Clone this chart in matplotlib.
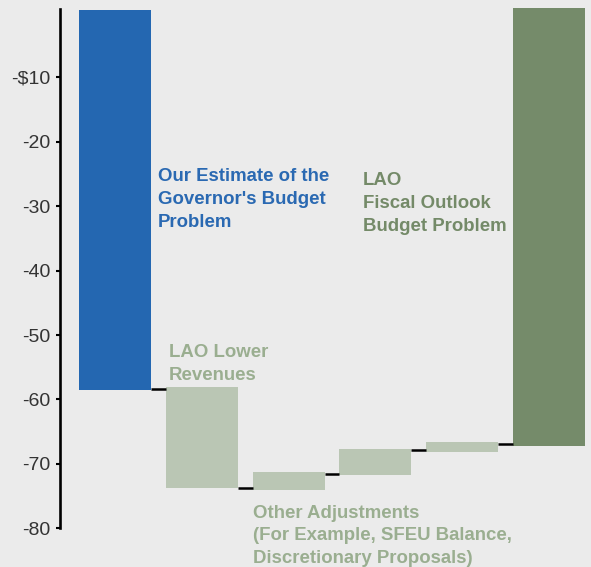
import matplotlib
matplotlib.use("Agg")
import matplotlib.pyplot as plt

# ---- data (billions of dollars) ----
categories = ["Governor's Budget Problem", "LAO Lower Revenues", "Other Adj. 1",
              "Other Adj. 2", "Other Adj. 3", "LAO Fiscal Outlook Budget Problem"]
bar_tops = [0.45, -58.1, -71.25, -67.7, -66.6, 0.75]
bar_bottoms = [-58.6, -73.8, -74.0, -71.7, -68.1, -67.2]
connector_levels = [-58.3, -73.7, -71.5, -67.9, -66.9]
tick_values = [-10, -20, -30, -40, -50, -60, -70, -80]
tick_labels = ["-$10", "-20", "-30", "-40", "-50", "-60", "-70", "-80"]

# ---- style ----
BG = "#ebebeb"
BLUE = "#2467b1"
LIGHT = "#bac6b4"
DARK = "#758b6a"
LIGHT_TXT = "#9aae90"
DARK_TXT = "#748a68"
bar_colors = [BLUE, LIGHT, LIGHT, LIGHT, LIGHT, DARK]

plt.rcParams['font.family'] = ['Liberation Sans', 'DejaVu Sans']

fig = plt.figure(figsize=(5.91, 5.67), dpi=100, facecolor=BG)
ax = fig.add_axes([60 / 591, 0, 531 / 591, 1])
ax.set_facecolor(BG)

width = 0.83
x = list(range(len(categories)))
heights = [t - b for t, b in zip(bar_tops, bar_bottoms)]
ax.bar(x, heights, bottom=bar_bottoms, width=width, color=bar_colors, linewidth=0, zorder=2)

for i, lvl in enumerate(connector_levels):
    ax.plot([x[i] + width / 2, x[i + 1] - width / 2], [lvl, lvl], color="black",
            lw=1.8, solid_capstyle="butt", zorder=3)

ax.set_xlim(-0.634, 5.484)
ax.set_ylim(-86.0, 2.0)

for s in ["top", "right", "bottom"]:
    ax.spines[s].set_visible(False)
ax.spines["left"].set_linewidth(1.9)
ax.spines["left"].set_bounds(-80, 0.55)
ax.set_xticks([])
ax.set_yticks(tick_values)
ax.set_yticklabels(tick_labels)
ax.tick_params(axis="y", length=3, width=1.5, direction="out", pad=4,
               labelsize=14, labelcolor="#333333", color="black")

fs = 13.4
ls = 1.45
ax.text(0.495, -24.1, "Our Estimate of the\nGovernor's Budget\nProblem", color="#2a69b2",
        fontsize=fs, fontweight="bold", va="top", ha="left", linespacing=ls)
ax.text(0.62, -51.4, "LAO Lower\nRevenues", color=LIGHT_TXT,
        fontsize=fs, fontweight="bold", va="top", ha="left", linespacing=ls)
ax.text(1.59, -76.3, "Other Adjustments\n(For Example, SFEU Balance,\nDiscretionary Proposals)",
        color=LIGHT_TXT, fontsize=fs, fontweight="bold", va="top", ha="left", linespacing=ls)
ax.text(2.857, -24.7, "LAO\nFiscal Outlook\nBudget Problem", color=DARK_TXT,
        fontsize=fs, fontweight="bold", va="top", ha="left", linespacing=ls)

fig.savefig("out.png", dpi=100, facecolor=BG)
